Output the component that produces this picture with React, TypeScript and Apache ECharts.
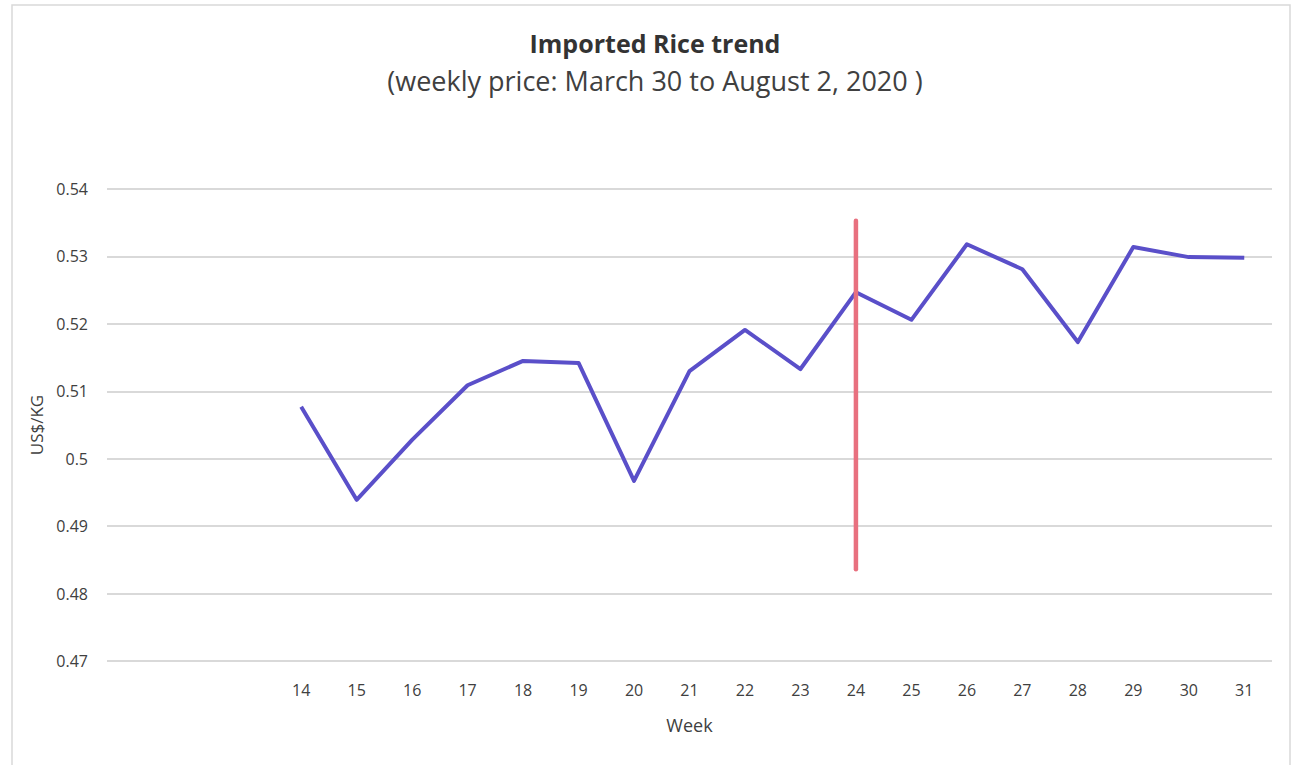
import React, { useEffect, useRef } from "react";
import * as echarts from "echarts";

const weeks = ["", "", "", "14", "15", "16", "17", "18", "19", "20", "21", "22", "23", "24", "25", "26", "27", "28", "29", "30", "31"];
const prices = [null, null, null, 0.5077, 0.4939, 0.5028, 0.5109, 0.5145, 0.5142, 0.4967, 0.513, 0.5191, 0.5133, 0.5247, 0.5206, 0.5318, 0.5281, 0.5173, 0.5314, 0.5299, 0.5298];
const markerWeek = "24";
const markerRange = [0.5353, 0.4836];
const yTicks = { min: 0.47, max: 0.54, interval: 0.01 };

const titleText = "Imported Rice trend";
const subtitleText = "(weekly price: March 30 to August 2, 2020 )";

export default function App() {
  const ref = useRef<HTMLDivElement>(null);
  useEffect(() => {
    if (!ref.current) return;
    const chart = echarts.init(ref.current, null, { renderer: "svg" });
    const font = "'Open Sans', 'Noto Sans', sans-serif";
    chart.setOption({
      animation: false,
      backgroundColor: "#ffffff",
      textStyle: { fontFamily: font },
      title: [
        {
          text: titleText,
          left: "center",
          top: 28,
          padding: 0,
          textStyle: { fontFamily: font, fontSize: 25, lineHeight: 30, fontWeight: "bold", color: "#333333" },
        },
        {
          text: subtitleText,
          left: "center",
          top: 65,
          padding: 0,
          textStyle: { fontFamily: font, fontSize: 27, lineHeight: 30, fontWeight: "normal", color: "#404040" },
        },
      ],
      graphic: [
        {
          type: "rect",
          shape: { x: 12, y: 5, width: 1278, height: 780 },
          style: { fill: "none", stroke: "#d9d9d9", lineWidth: 1.5 },
          silent: true,
        },
      ],
      grid: { left: 107, right: 38, top: 189, bottom: 104 },
      xAxis: {
        type: "category",
        data: weeks,
        boundaryGap: true,
        name: "Week",
        nameLocation: "middle",
        nameGap: 55,
        nameTextStyle: { fontSize: 18, color: "#404040" },
        axisLine: { show: false },
        axisTick: { show: false },
        axisLabel: { fontSize: 16, color: "#404040", margin: 21, interval: 0 },
      },
      yAxis: {
        type: "value",
        min: yTicks.min,
        max: yTicks.max,
        interval: yTicks.interval,
        name: "US$/KG",
        nameLocation: "middle",
        nameGap: 62,
        nameTextStyle: { fontSize: 17, color: "#404040" },
        axisLine: { show: false },
        axisTick: { show: false },
        axisLabel: { fontSize: 16, color: "#404040", margin: 19 },
        splitLine: { lineStyle: { color: "#d9d9d9", width: 2 } },
      },
      series: [
        {
          type: "line",
          data: prices,
          symbol: "none",
          connectNulls: false,
          lineStyle: { color: "#5a4fc9", width: 4, join: "round" },
        },
        {
          type: "line",
          data: markerRange.map((v) => [markerWeek, v]),
          symbol: "none",
          lineStyle: { color: "#e8707f", width: 4.5, cap: "round" },
        },
      ],
    });
    return () => chart.dispose();
  }, []);
  return <div ref={ref} style={{ position: "fixed", left: 0, top: 0, width: 1310, height: 765 }} />;
}
